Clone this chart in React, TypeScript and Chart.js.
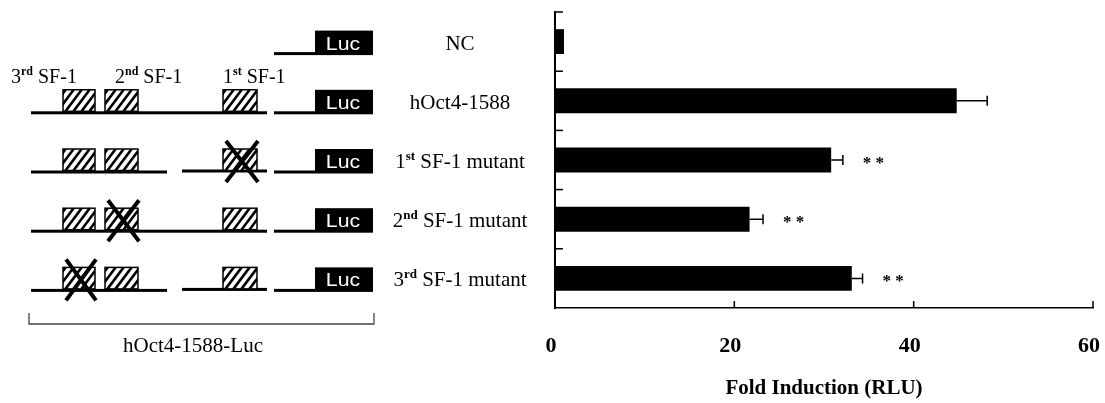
import { useEffect, useRef } from "react";
import { Chart, registerables } from "chart.js";
Chart.register(...registerables);

// ---- data ----
const categories = ["NC", "hOct4-1588", "1st SF-1 mutant", "2nd SF-1 mutant", "3rd SF-1 mutant"];
const foldInduction = [1.0, 44.8, 30.8, 21.7, 33.1];
const errorValues = [0, 3.4, 1.3, 1.5, 1.2];
const significance = ["", "", "**", "**", "**"];
const hasPromoter = [false, true, true, true, true];
const mutatedSite = [0, 0, 1, 2, 3]; // which SF-1 site is mutated (0 = none)
const siteNames = ["3rd SF-1", "2nd SF-1", "1st SF-1"]; // left to right on the promoter
const siteNumbers = [3, 2, 1];
const xTicks = [0, 20, 40, 60];
const reporterName = "Luc";
const constructName = "hOct4-1588-Luc";
const axisTitle = "Fold Induction (RLU)";

const SERIF = '"Liberation Serif", "Times New Roman", serif';
const SANS = '"Liberation Sans", Arial, sans-serif';

function drawSupText(
  ctx: CanvasRenderingContext2D,
  text: string,
  x: number,
  y: number,
  size: number,
  align: "left" | "center"
) {
  const m = text.match(/^(\d)(st|nd|rd|th)(.*)$/);
  const parts: [string, boolean][] = m
    ? [
        [m[1], false],
        [m[2], true],
        [m[3], false],
      ]
    : [[text, false]];
  const mainFont = `${size}px ${SERIF}`;
  const supFont = `bold ${Math.round(size * 0.62)}px ${SERIF}`;
  let total = 0;
  const widths: number[] = [];
  for (const [t, sup] of parts) {
    ctx.font = sup ? supFont : mainFont;
    const w = ctx.measureText(t).width;
    widths.push(w);
    total += w;
  }
  let cx = align === "center" ? x - total / 2 : x;
  ctx.textAlign = "left";
  ctx.textBaseline = "alphabetic";
  parts.forEach(([t, sup], i) => {
    ctx.font = sup ? supFont : mainFont;
    ctx.fillText(t, cx, sup ? y - size * 0.38 : y);
    cx += widths[i];
  });
}

function drawHatchBox(ctx: CanvasRenderingContext2D, x0: number, y0: number, w: number, h: number) {
  ctx.save();
  ctx.fillStyle = "#fff";
  ctx.fillRect(x0, y0, w, h);
  ctx.beginPath();
  ctx.rect(x0, y0, w, h);
  ctx.clip();
  ctx.strokeStyle = "#000";
  ctx.lineWidth = 2.6;
  for (let s = -h; s < w + h; s += 8) {
    ctx.beginPath();
    ctx.moveTo(x0 + s, y0 + h);
    ctx.lineTo(x0 + s + h * 0.75, y0);
    ctx.stroke();
  }
  ctx.restore();
  ctx.strokeStyle = "#000";
  ctx.lineWidth = 1.5;
  ctx.strokeRect(x0, y0, w, h);
}

const overlayPlugin = {
  id: "overlay",
  afterDraw(chart: any) {
    const { ctx, scales, chartArea } = chart;
    const xs = scales.x;
    const ys = scales.y;
    ctx.save();
    ctx.fillStyle = "#000";
    ctx.strokeStyle = "#000";

    // inward tick marks
    ctx.lineWidth = 1.5;
    const bounds: number[] = [chartArea.top];
    for (let i = 0; i < categories.length - 1; i++) {
      bounds.push((ys.getPixelForValue(i) + ys.getPixelForValue(i + 1)) / 2);
    }
    bounds.forEach((by) => {
      ctx.beginPath();
      ctx.moveTo(chartArea.left, by);
      ctx.lineTo(chartArea.left + 8, by);
      ctx.stroke();
    });
    xTicks.slice(1).forEach((v) => {
      const px = xs.getPixelForValue(v);
      ctx.beginPath();
      ctx.moveTo(px, chartArea.bottom);
      ctx.lineTo(px, chartArea.bottom - 7);
      ctx.stroke();
    });

    // error bars and significance marks
    categories.forEach((_, i) => {
      const cy = ys.getPixelForValue(i);
      const err = errorValues[i];
      if (err > 0) {
        const x1 = xs.getPixelForValue(foldInduction[i]);
        const x2 = xs.getPixelForValue(foldInduction[i] + err);
        ctx.lineWidth = 1.5;
        ctx.beginPath();
        ctx.moveTo(x1, cy);
        ctx.lineTo(x2, cy);
        ctx.moveTo(x2, cy - 5);
        ctx.lineTo(x2, cy + 5);
        ctx.stroke();
        if (significance[i]) {
          ctx.font = `bold 17px ${SERIF}`;
          ctx.textAlign = "left";
          ctx.textBaseline = "alphabetic";
          ctx.fillText(significance[i].split("").join(" "), x2 + 20, cy + 8);
        }
      }
    });

    // category labels
    categories.forEach((c, i) => {
      const cy = ys.getPixelForValue(i);
      drawSupText(ctx, c, 460, cy + 8, 21, "center");
    });

    // construct diagram
    const boxes = [
      [63, 95],
      [105, 138],
      [223, 257],
    ];
    categories.forEach((_, i) => {
      const cy = ys.getPixelForValue(i);
      const lineY = cy + 10.5;
      ctx.fillStyle = "#000";
      // Luc reporter box
      ctx.fillRect(315, cy - 11, 58, 24.5);
      ctx.fillRect(274, lineY, 41, 3);
      ctx.save();
      ctx.fillStyle = "#fff";
      ctx.font = `19px ${SANS}`;
      ctx.textAlign = "center";
      ctx.textBaseline = "alphabetic";
      ctx.translate(343, cy + 8);
      ctx.scale(1.12, 1);
      ctx.fillText(reporterName, 0, 0);
      ctx.restore();
      if (!hasPromoter[i]) return;
      ctx.fillStyle = "#000";
      if (i === 2 || i === 4) {
        ctx.fillRect(31, lineY, 136, 3);
        ctx.fillRect(182, lineY - 1, 85, 3);
      } else {
        ctx.fillRect(31, lineY, 236, 3);
      }
      boxes.forEach(([b0, b1]) => drawHatchBox(ctx, b0, cy - 11, b1 - b0, 21.5));
      const k = siteNumbers.indexOf(mutatedSite[i]);
      if (k >= 0) {
        const [b0, b1] = boxes[k];
        ctx.lineWidth = 4;
        ctx.lineCap = "butt";
        ctx.beginPath();
        ctx.moveTo(b0 + 3, cy - 19);
        ctx.lineTo(b1 + 1, cy + 22);
        ctx.moveTo(b1 + 1, cy - 19);
        ctx.lineTo(b0 + 3, cy + 22);
        ctx.stroke();
      }
    });

    // site labels above the promoter
    ctx.fillStyle = "#000";
    const row1 = ys.getPixelForValue(1);
    const labelX = [11, 115, 223];
    siteNames.forEach((s, k) => drawSupText(ctx, s, labelX[k], row1 - 18, 20, "left"));

    // bracket and construct name
    ctx.strokeStyle = "#444";
    ctx.lineWidth = 1.3;
    ctx.beginPath();
    ctx.moveTo(29, 313);
    ctx.lineTo(29, 324);
    ctx.lineTo(374, 324);
    ctx.lineTo(374, 313);
    ctx.stroke();
    ctx.fillStyle = "#000";
    drawSupText(ctx, constructName, 193, 352, 21, "center");

    ctx.restore();
  },
};

export default function App() {
  const canvasRef = useRef<HTMLCanvasElement | null>(null);
  useEffect(() => {
    if (!canvasRef.current) return;
    const chart = new Chart(canvasRef.current, {
      type: "bar",
      data: {
        labels: categories,
        datasets: [
          {
            data: foldInduction,
            backgroundColor: "#000",
            borderWidth: 0,
            barPercentage: 0.42,
            categoryPercentage: 1,
          },
        ],
      },
      options: {
        indexAxis: "y",
        animation: false,
        responsive: true,
        maintainAspectRatio: false,
        layout: { padding: { left: 0, right: 12, top: 12, bottom: 0 } },
        plugins: { legend: { display: false }, tooltip: { enabled: false } },
        scales: {
          y: {
            type: "category",
            grid: { display: false, drawTicks: false },
            border: { display: true, color: "#000", width: 2 },
            ticks: { display: false },
            afterFit: (s: any) => {
              s.width = 555;
            },
          },
          x: {
            type: "linear",
            min: 0,
            max: 60,
            grid: { display: false, drawTicks: false },
            border: { display: true, color: "#000", width: 1.5 },
            afterBuildTicks: (s: any) => {
              s.ticks = xTicks.map((v) => ({ value: v }));
            },
            ticks: {
              color: "#000",
              padding: 25,
              labelOffset: -4,
              font: { family: SERIF, size: 22, weight: "bold" },
            },
            title: {
              display: true,
              text: axisTitle,
              color: "#000",
              font: { family: SERIF, size: 21, weight: "bold" },
              padding: { top: 0, bottom: 2 },
            },
            afterFit: (s: any) => {
              s.height = 95;
              s.paddingLeft = 0;
              s.paddingRight = 0;
            },
          },
        },
      },
      plugins: [overlayPlugin],
    });
    return () => chart.destroy();
  }, []);
  return (
    <div style={{ position: "fixed", left: 0, top: 0, width: 1105, height: 403, background: "#fff" }}>
      <canvas ref={canvasRef} />
    </div>
  );
}
